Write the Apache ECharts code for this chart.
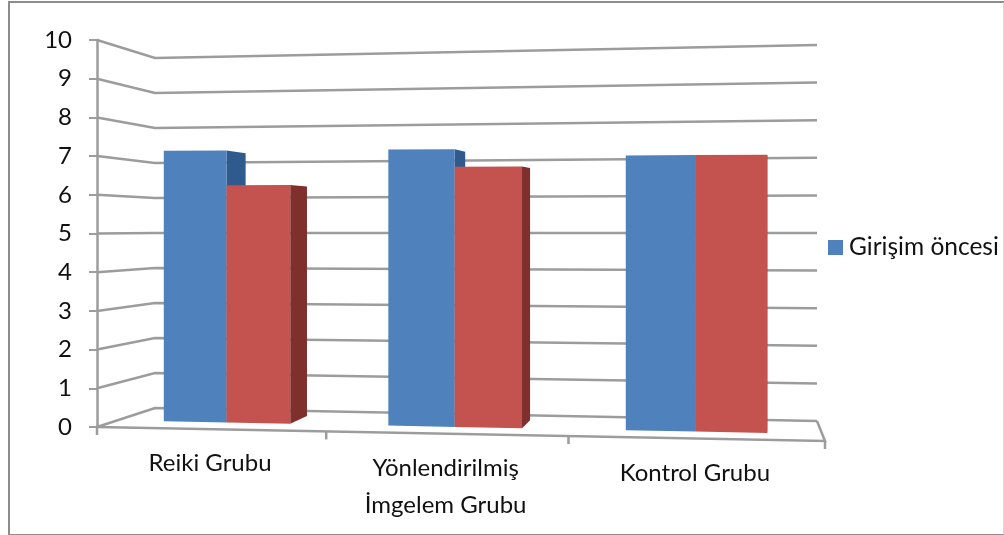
<!DOCTYPE html>
<html>
<head>
<meta charset="utf-8">
<title>Girişim öncesi</title>
<script src="https://cdn.jsdelivr.net/npm/echarts@6/dist/echarts.min.js"></script>
<style>
  html, body { margin: 0; padding: 0; background: #fff; }
  #chart { position: absolute; left: 0; top: 0; width: 1004px; height: 535px; }
  #frame {
    position: absolute; left: 8px; top: 1px; width: 993px; height: 531px;
    border: 2px solid #8c8c8c; border-right-color: #d9d9d9; pointer-events: none;
  }
</style>
</head>
<body>
<div id="chart"></div>
<div id="frame"></div>
<script>
const categories = ['Reiki Grubu', 'Yönlendirilmiş\nİmgelem Grubu', 'Kontrol Grubu'];
const beforeValues = [7.2, 7.2, 7.02];
const afterValues = [6.28, 6.75, 7.02];
const yTicks = [0, 1, 2, 3, 4, 5, 6, 7, 8, 9, 10];
const xTicks = [0, 1, 2, 3];

const FONT = 'Lato, "Open Sans", sans-serif';
const LINE = '#9c9c9c';

// the picture is an Excel 3D column chart, so the plot is a box seen in perspective.
// warp() takes a pixel of the flat grid and moves it into that box, depth 0 = front, 1 = back wall
const GRID = { left: 97, top: 40, width: 728, height: 387 };
const FRONT = { l0: [97, 427], l10: [97, 40], r0: [825, 441], r10: [825, 31] };
const BACK = { l0: [155, 408], l10: [155, 58], r0: [817, 421], r10: [817, 45] };
const BEND = 0.027; // bands get wider to the right

function lerp(a, b, k) { return a + (b - a) * k; }
function lerp2(p, q, k) { return [lerp(p[0], q[0], k), lerp(p[1], q[1], k)]; }

function warp(p, depth) {
  const u = (p[0] - GRID.left) / GRID.width * 3;
  const s = (GRID.top + GRID.height - p[1]) / GRID.height;
  const t = u / (1 - BEND * u) * (1 - 3 * BEND) / 3;
  const front = lerp2(lerp2(FRONT.l0, FRONT.r0, t), lerp2(FRONT.l10, FRONT.r10, t), s);
  const back = lerp2(lerp2(BACK.l0, BACK.r0, t), lerp2(BACK.l10, BACK.r10, t), s);
  return lerp2(front, back, depth);
}

function line(points) {
  return {
    type: 'polyline',
    shape: { points: points },
    style: { stroke: LINE, lineWidth: 2.5, fill: null }
  };
}

function wallItem(params, api) {
  const v = api.value(0);
  return line([
    warp(api.coord([0, v]), 0),
    warp(api.coord([0, v]), 1),
    warp(api.coord([3, v]), 1)
  ]);
}

function floorItem(params, api) {
  const u = api.value(0);
  const foot = warp(api.coord([u, 0]), 0);
  const children = [line([foot, [foot[0], foot[1] + 8]])];
  if (u === 0) {
    children.push(line([warp(api.coord([0, 0]), 0), warp(api.coord([3, 0]), 0), warp(api.coord([3, 0]), 1)]));
  }
  return { type: 'group', children: children };
}

const BAR_FRONT = 0.35, BAR_BACK = 0.75, BAR_WIDTH = 0.285;

function barItem(side, fill, dark) {
  return function (params, api) {
    const c = params.dataIndex + 0.499;
    const v = api.value(0);
    const x0 = side === 0 ? c - BAR_WIDTH : c;
    const x1 = side === 0 ? c : c + BAR_WIDTH;
    const corner = (x, y, d) => warp(api.coord([x, y]), d);
    return {
      type: 'group',
      children: [
        {
          type: 'polygon',
          shape: { points: [corner(x1, 0, BAR_FRONT), corner(x1, v, BAR_FRONT), corner(x1, v, BAR_BACK), corner(x1, 0, BAR_BACK)] },
          style: { fill: dark }
        },
        {
          type: 'polygon',
          shape: { points: [corner(x0, 0, BAR_FRONT), corner(x0, v, BAR_FRONT), corner(x1, v, BAR_FRONT), corner(x1, 0, BAR_FRONT)] },
          style: { fill: fill }
        }
      ]
    };
  };
}

function labelItem(params, api) {
  const foot = warp(api.coord([params.dataIndex + 0.5, 0]), 0);
  return {
    type: 'text',
    x: foot[0],
    y: foot[1] + 16,
    style: {
      text: categories[params.dataIndex],
      align: 'center',
      verticalAlign: 'top',
      font: '24px ' + FONT,
      lineHeight: 37,
      fill: '#111'
    }
  };
}

const chart = echarts.init(document.getElementById('chart'), null, { renderer: 'canvas' });
chart.setOption({
  animation: false,
  backgroundColor: '#fff',
  grid: { left: GRID.left, top: GRID.top, width: GRID.width, height: GRID.height, containLabel: false },
  legend: {
    data: ['Girişim öncesi'],
    left: 828,
    top: 235,
    padding: 0,
    icon: 'rect',
    itemWidth: 15,
    itemHeight: 15,
    textStyle: { fontFamily: FONT, fontSize: 24.5, color: '#111', padding: [0, 0, 0, 1] },
    selectedMode: false
  },
  xAxis: {
    type: 'value',
    min: 0,
    max: 3,
    interval: 1,
    axisLine: { show: false },
    axisTick: { show: false },
    axisLabel: { show: false },
    splitLine: { show: false }
  },
  yAxis: {
    type: 'value',
    min: 0,
    max: 10,
    interval: 1,
    axisLine: { show: true, lineStyle: { color: LINE, width: 2.5 } },
    axisTick: { show: true, length: 8, lineStyle: { color: LINE, width: 2 } },
    axisLabel: { fontFamily: FONT, fontSize: 24, color: '#111', margin: 25 },
    splitLine: { show: false }
  },
  series: [
    { type: 'custom', name: 'walls', renderItem: wallItem, data: yTicks.map(v => [v]), encode: { y: 0 }, silent: true, z: 1 },
    { type: 'custom', name: 'floor', renderItem: floorItem, data: xTicks.map(v => [v]), encode: { x: 0 }, silent: true, z: 1 },
    {
      type: 'custom',
      name: 'Girişim öncesi',
      renderItem: barItem(0, '#4f81bd', '#2f5a8e'),
      itemStyle: { color: '#4f81bd' },
      data: beforeValues.map(v => [v]),
      encode: { y: 0 },
      z: 2
    },
    {
      type: 'custom',
      name: 'Girişim sonrası',
      renderItem: barItem(1, '#c4524e', '#7f2f2c'),
      itemStyle: { color: '#c4524e' },
      data: afterValues.map(v => [v]),
      encode: { y: 0 },
      z: 3
    },
    { type: 'custom', name: 'labels', renderItem: labelItem, data: categories.map(() => [0]), encode: { y: 0 }, silent: true, z: 4 }
  ]
});
</script>
</body>
</html>
